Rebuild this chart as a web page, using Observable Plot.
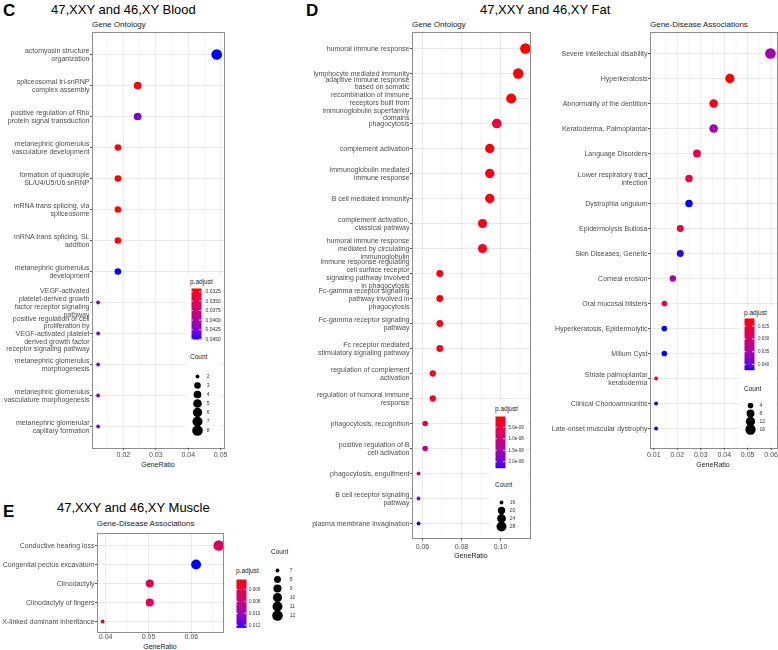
<!DOCTYPE html>
<html><head><meta charset="utf-8">
<script src="https://cdn.jsdelivr.net/npm/d3@7"></script>
<script src="https://cdn.jsdelivr.net/npm/@observablehq/plot@0.6"></script>
<style>
html,body{margin:0;padding:0;background:#fff;}
#fig{position:relative;width:778px;height:650px;overflow:hidden;background:#fff;font-family:'Liberation Sans',Arial,Helvetica,sans-serif;}
#fig svg{will-change:transform;}
.t{position:absolute;white-space:pre;line-height:1;}
</style></head><body><div id="fig"></div>
<script>
// ---------- Panel C: Blood, Gene Ontology ----------
const C_terms = [
  "actomyosin structure\norganization",
  "spliceosomal tri-snRNP\ncomplex assembly",
  "positive regulation of Rho\nprotein signal transduction",
  "metanephric glomerulus\nvasculature development",
  "formation of quadruple\nSL/U4/U5/U6 snRNP",
  "mRNA trans splicing, via\nspliceosome",
  "mRNA trans splicing, SL\naddition",
  "metanephric glomerulus\ndevelopment",
  "VEGF-activated\nplatelet-derived growth\nfactor receptor signaling\npathway",
  "positive regulation of cell\nproliferation by\nVEGF-activated platelet\nderived growth factor\nreceptor signaling pathway",
  "metanephric glomerulus\nmorphogenesis",
  "metanephric glomerulus\nvasculature morphogenesis",
  "metanephric glomerular\ncapillary formation"
];
const C_ratio = [0.0488,0.0244,0.0244,0.0183,0.0183,0.0183,0.0183,0.0183,0.0122,0.0122,0.0122,0.0122,0.0122];
const C_count = [8,4,4,3,3,3,3,3,2,2,2,2,2];
const C_padj  = [0.0451,0.0318,0.0428,0.0318,0.0317,0.0318,0.0318,0.0451,0.0421,0.0421,0.0421,0.0421,0.0421];
const C_xTicks = [0.02,0.03,0.04,0.05];
const C_xMinor = [0.015,0.025,0.035,0.045];
const C_padjTicks = [0.0325,0.0350,0.0375,0.0400,0.0425,0.0450];
const C_padjLabels = ["0.0325","0.0350","0.0375","0.0400","0.0425","0.0450"];
const C_sizeBreaks = [2,3,4,5,6,7,8];

// ---------- Panel D: Fat, Gene Ontology ----------
const Dgo_terms = [
  "humoral immune response",
  "lymphocyte mediated immunity",
  "adaptive immune response\nbased on somatic\nrecombination of immune\nreceptors built from\nimmunoglobulin superfamily\ndomains",
  "phagocytosis",
  "complement activation",
  "immunoglobulin mediated\nimmune response",
  "B cell mediated immunity",
  "complement activation,\nclassical pathway",
  "humoral immune response\nmediated by circulating\nimmunoglobulin",
  "immune response-regulating\ncell surface receptor\nsignaling pathway involved\nin phagocytosis",
  "Fc-gamma receptor signaling\npathway involved in\nphagocytosis",
  "Fc-gamma receptor signaling\npathway",
  "Fc receptor mediated\nstimulatory signaling pathway",
  "regulation of complement\nactivation",
  "regulation of humoral immune\nresponse",
  "phagocytosis, recognition",
  "positive regulation of B\ncell activation",
  "phagocytosis, engulfment",
  "B cell receptor signaling\npathway",
  "plasma membrane invagination"
];
const Dgo_ratio = [0.1128,0.1091,0.1055,0.0981,0.0945,0.0945,0.0945,0.0908,0.0908,0.0689,0.0689,0.0689,0.0689,0.0653,0.0653,0.0614,0.0614,0.0580,0.0580,0.0580];
const Dgo_count = [31,30,29,27,26,26,26,25,25,19,19,19,19,18,18,17,17,16,16,16];
const Dgo_padj  = [3.5e-10,4e-10,6e-10,3.5e-9,5e-10,8e-10,8e-10,1.2e-9,1.5e-9,1.0e-9,1.2e-9,1.2e-9,1.5e-9,1.5e-9,1.8e-9,2.5e-9,1.3e-8,1.05e-8,1.9e-8,2.28e-8];
const Dgo_xTicks = [0.06,0.08,0.10];
const Dgo_xMinor = [0.07,0.09,0.11];
const Dgo_padjTicks = [5e-9,1e-8,1.5e-8,2e-8];
const Dgo_padjLabels = ["5.0e-09","1.0e-08","1.5e-08","2.0e-08"];
const Dgo_sizeBreaks = [16,20,24,28];

// ---------- Panel D: Fat, Gene-Disease Associations ----------
const Dgda_terms = [
  "Severe intellectual disability",
  "Hyperkeratosis",
  "Abnormality of the dentition",
  "Keratoderma, Palmoplantar",
  "Language Disorders",
  "Lower respiratory tract\ninfection",
  "Dystrophia unguium",
  "Epidermolysis Bullosa",
  "Skin Diseases, Genetic",
  "Corneal erosion",
  "Oral mucosal blisters",
  "Hyperkeratosis, Epidermolytic",
  "Milium Cyst",
  "Striate palmoplantar\nkeratoderma",
  "Clinical Chorioamnionitis",
  "Late-onset muscular dystrophy"
];
const Dgda_ratio = [0.0597,0.0424,0.0355,0.0355,0.0284,0.0250,0.0250,0.0213,0.0213,0.0181,0.0145,0.0145,0.0145,0.0110,0.0110,0.0110];
const Dgda_count = [17,12,10,10,8,7,7,6,6,5,4,4,4,3,3,3];
const Dgda_padj  = [0.0355,0.0220,0.0232,0.0355,0.0262,0.0258,0.0422,0.0262,0.0418,0.0350,0.0258,0.0422,0.0422,0.0250,0.0422,0.0422];
const Dgda_xTicks = [0.01,0.02,0.03,0.04,0.05,0.06];
const Dgda_xMinor = [0.015,0.025,0.035,0.045,0.055];
const Dgda_padjTicks = [0.025,0.030,0.035,0.040];
const Dgda_padjLabels = ["0.025","0.030","0.035","0.040"];
const Dgda_sizeBreaks = [4,8,12,16];

// ---------- Panel E: Muscle, Gene-Disease Associations ----------
const E_terms = [
  "Conductive hearing loss",
  "Congenital pectus excavatum",
  "Clinodactyly",
  "Clinodactyly of fingers",
  "X-linked dominant inheritance"
];
const E_ratio = [0.0664,0.0611,0.0503,0.0503,0.0393];
const E_count = [12,11,9,9,7];
const E_padj  = [0.0070,0.01245,0.0067,0.0067,0.0043];
const E_xTicks = [0.04,0.05,0.06];
const E_xMinor = [0.045,0.055,0.065];
const E_padjTicks = [0.006,0.008,0.010,0.012];
const E_padjLabels = ["0.006","0.008","0.010","0.012"];
const E_sizeBreaks = [7,8,9,10,11,12];

// ---------- helpers ----------
const FONT = "'Liberation Sans', Arial, Helvetica, sans-serif";
const fig = document.getElementById("fig");
const SIZE_R = [1.9, 5.3];

function place(el, left, top) {
  el.style.position = "absolute";
  el.style.left = left + "px";
  el.style.top = top + "px";
  fig.appendChild(el);
}
function label(str, x, y, size, opts = {}) {
  const d = document.createElement("div");
  d.className = "t";
  d.textContent = str;
  d.style.fontSize = size + "px";
  d.style.fontWeight = opts.bold ? "bold" : "normal";
  d.style.color = opts.color || "#000";
  d.style.left = x + "px";
  d.style.top = y + "px";
  d.style.transform = (opts.center ? "translate(-50%,-50%)" : "translate(0,-50%)");
  fig.appendChild(d);
}
function whiteBox(x, y, w, h) {
  const d = document.createElement("div");
  d.style.position = "absolute";
  d.style.left = x + "px"; d.style.top = y + "px";
  d.style.width = w + "px"; d.style.height = h + "px";
  d.style.background = "#fff";
  fig.appendChild(d);
}
function colorScale(padj) {
  return {type: "linear", domain: d3.extent(padj), range: ["red", "blue"], interpolate: "lab"};
}
function sizeFn(count) {
  const [lo, hi] = d3.extent(count);
  return c => 1 + Math.sqrt(Math.max(0, (c - lo) / (hi - lo)));
}

function panel(o) {
  const left = o.fx0 - o.labelW, top = o.fy0 - 1;
  const rv = sizeFn(o.count);
  const data = o.terms.map((t, i) => ({term: t, ratio: o.ratio[i], count: o.count[i], padj: o.padj[i]}));
  const p = Plot.plot({
    width: o.fx1 - left + 1,
    height: o.fy1 - top + o.bottom,
    marginLeft: o.fx0 - left, marginRight: 1, marginTop: o.fy0 - top, marginBottom: o.bottom,
    style: {fontFamily: FONT, fontSize: "7px", color: "#4d4d4d", background: "transparent", overflow: "visible"},
    x: {domain: o.xDomain},
    y: {type: "point", domain: o.terms, padding: 0.6},
    r: {type: "linear", domain: [1, 2], range: SIZE_R},
    color: colorScale(o.padj),
    marks: [
      Plot.gridX(o.xMinor, {stroke: "#efefef", strokeOpacity: 1, strokeWidth: 0.6}),
      Plot.gridX(o.xTicks, {stroke: "#e9e9e9", strokeOpacity: 1, strokeWidth: 1}),
      Plot.gridY({stroke: "#e9e9e9", strokeOpacity: 1, strokeWidth: 1}),
      Plot.dot(data, {x: "ratio", y: "term", r: d => rv(d.count), fill: "padj"}),
      Plot.frame({stroke: "#8c8c8c", strokeWidth: 1}),
      Plot.axisY({tickSize: 2, tickPadding: 1, fontSize: 7, lineHeight: 1.1, label: null, fill: "#4d4d4d", stroke: "#555"}),
      Plot.axisX(o.xTicks, {tickSize: o.tickSize, tickPadding: o.tickPad, fontSize: 7, tickFormat: d3.format(".2f"), label: null, fill: "#4d4d4d", stroke: "#555"})
    ]
  });
  place(p, left, top);
}

function colorLegend(o) {
  const dom = d3.extent(o.padj);
  const w = 10;
  const marks = [];
  if (Plot.raster) {
    marks.push(Plot.raster({x1: 0, x2: 1, y1: dom[0], y2: dom[1], fill: (x, y) => y, width: 1, height: 100, imageRendering: "auto"}));
  } else {
    const steps = d3.range(0, 1, 0.02).map(t => [dom[0] + t * (dom[1] - dom[0]), dom[0] + (t + 0.02) * (dom[1] - dom[0])]);
    marks.push(Plot.rect(steps, {x1: 0, x2: 1, y1: d => d[0], y2: d => d[1], fill: d => d[0]}));
  }
  marks.push(
    Plot.ruleY(o.ticks, {x1: 0, x2: 0.2, stroke: "white", strokeWidth: 0.8}),
    Plot.ruleY(o.ticks, {x1: 0.8, x2: 1, stroke: "white", strokeWidth: 0.8}),
    Plot.axisY(o.ticks, {anchor: "right", tickSize: 0, tickPadding: o.pad, fontSize: o.fs, tickFormat: d => o.labels[o.ticks.indexOf(d)], label: null, fill: "#333"})
  );
  const p = Plot.plot({
    width: w + 36, height: o.y1 - o.y0,
    marginLeft: 0, marginRight: 36, marginTop: 0, marginBottom: 0,
    style: {fontFamily: FONT, color: "#333", background: "transparent", overflow: "visible"},
    x: {domain: [0, 1], axis: null},
    y: {domain: dom, reverse: true},
    color: colorScale(o.padj),
    marks
  });
  place(p, o.x, o.y0);
}

function sizeLegend(o) {
  const rv = sizeFn(o.count);
  const left = o.dotX - 8, top = o.y0 - 8;
  const p = Plot.plot({
    width: o.labelX - left + 12, height: o.y1 - top + 8,
    marginLeft: 0, marginRight: 0, marginTop: 0, marginBottom: 0,
    style: {fontFamily: FONT, color: "#333", background: "transparent", overflow: "visible"},
    x: {domain: [0, 1], range: [o.dotX - left, o.labelX - left], axis: null},
    y: {type: "point", domain: o.breaks, range: [o.y0 - top, o.y1 - top], axis: null},
    r: {type: "linear", domain: [1, 2], range: SIZE_R},
    marks: [
      Plot.dot(o.breaks, {x: 0, y: d => d, r: d => rv(d), fill: "black"}),
      Plot.text(o.breaks, {x: 1, y: d => d, text: d => String(d), textAnchor: "start", fontSize: 5, fill: "#333"})
    ]
  });
  place(p, left, top);
}

// ---------- panels ----------
panel({terms: C_terms, ratio: C_ratio, count: C_count, padj: C_padj,
  fx0: 92, fy0: 32, fx1: 224, fy1: 448, labelW: 92, bottom: 12, tickSize: 2, tickPad: 1.7,
  xDomain: [0.01046, 0.0512], xTicks: C_xTicks, xMinor: C_xMinor});
panel({terms: Dgo_terms, ratio: Dgo_ratio, count: Dgo_count, padj: Dgo_padj,
  fx0: 412, fy0: 32, fx1: 530, fy1: 538, labelW: 112, bottom: 14, tickSize: 2.5, tickPad: 2.8,
  xDomain: [0.0549, 0.1154], xTicks: Dgo_xTicks, xMinor: Dgo_xMinor});
panel({terms: Dgda_terms, ratio: Dgda_ratio, count: Dgda_count, padj: Dgda_padj,
  fx0: 650, fy0: 32, fx1: 777, fy1: 448, labelW: 110, bottom: 12, tickSize: 2, tickPad: 1.7,
  xDomain: [0.0086, 0.0627], xTicks: Dgda_xTicks, xMinor: Dgda_xMinor});
panel({terms: E_terms, ratio: E_ratio, count: E_count, padj: E_padj,
  fx0: 97, fy0: 533, fx1: 223, fy1: 632, labelW: 97, bottom: 10, tickSize: 1, tickPad: 0.5,
  xDomain: [0.0381, 0.0675], xTicks: E_xTicks, xMinor: E_xMinor});

// ---------- legend backgrounds ----------
whiteBox(186, 276, 35, 170);
whiteBox(490, 402, 38, 134);
whiteBox(740, 306, 36, 138);

// ---------- legends ----------
colorLegend({padj: C_padj, ticks: C_padjTicks, labels: C_padjLabels, x: 191, y0: 288, y1: 339, pad: 4, fs: 5});
sizeLegend({count: C_count, breaks: C_sizeBreaks, dotX: 196.7, labelX: 206, y0: 369, y1: 437});
label("p.adjust", 190, 282, 6.5, {color: "#222"});
label("Count", 190, 357, 6.5, {color: "#222"});

colorLegend({padj: Dgo_padj, ticks: Dgo_padjTicks, labels: Dgo_padjLabels, x: 495, y0: 416, y1: 467.7, pad: 3, fs: 4.5});
sizeLegend({count: Dgo_count, breaks: Dgo_sizeBreaks, dotX: 500.7, labelX: 509, y0: 497, y1: 530});
label("p.adjust", 495, 409, 6.5, {color: "#222"});
label("Count", 495, 485, 6.5, {color: "#222"});

colorLegend({padj: Dgda_padj, ticks: Dgda_padjTicks, labels: Dgda_padjLabels, x: 744, y0: 318.3, y1: 370, pad: 3.5, fs: 4.5});
sizeLegend({count: Dgda_count, breaks: Dgda_sizeBreaks, dotX: 750, labelX: 759, y0: 399, y1: 434});
label("p.adjust", 744, 313, 6.5, {color: "#222"});
label("Count", 744, 389, 6.5, {color: "#222"});

colorLegend({padj: E_padj, ticks: E_padjTicks, labels: E_padjLabels, x: 236, y0: 579.3, y1: 627.7, pad: 2.5, fs: 4.5});
sizeLegend({count: E_count, breaks: E_sizeBreaks, dotX: 276.7, labelX: 289, y0: 562.7, y1: 621});
label("p.adjust", 236, 571, 6.5, {color: "#222"});
label("Count", 271, 552, 6.5, {color: "#222"});

// ---------- titles & labels ----------
label("C", 3, 10, 17, {bold: true});
label("47,XXY and 46,XY Blood", 51, 9, 13);
label("Gene Ontology", 92, 25, 8, {color: "#1a1a1a"});
label("GeneRatio", 158, 463.7, 7, {center: true, color: "#222"});

label("D", 306, 10, 17, {bold: true});
label("47,XXY and 46,XY Fat", 480, 9, 13);
label("Gene Ontology", 412, 25, 8, {color: "#1a1a1a"});
label("GeneRatio", 471, 554.5, 7, {center: true, color: "#222"});
label("Gene-Disease Associations", 650, 25, 8, {color: "#1a1a1a"});
label("GeneRatio", 713, 464, 7, {center: true, color: "#222"});

label("E", 3, 511, 17, {bold: true});
label("47,XXY and 46,XY Muscle", 57, 507, 13);
label("Gene-Disease Associations", 96.7, 524, 8, {color: "#1a1a1a"});
label("GeneRatio", 160, 646, 7, {center: true, color: "#222"});
</script></body></html>
